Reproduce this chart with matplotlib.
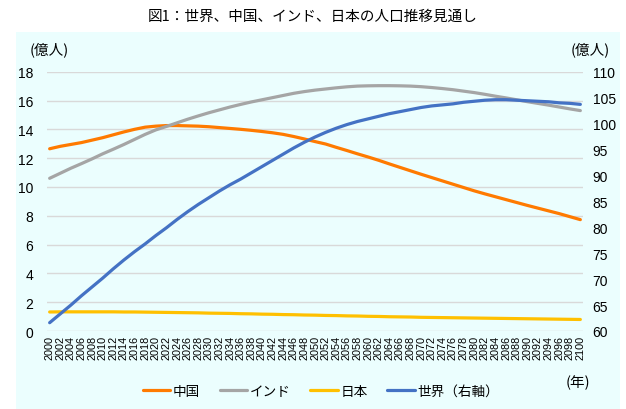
import matplotlib
matplotlib.use("Agg")
import matplotlib.pyplot as plt
from matplotlib.patches import Rectangle

plt.rcParams['font.family'] = ['Noto Sans CJK JP', 'DejaVu Sans']

years = list(range(2000, 2101, 2))

china = [12.65, 12.82, 12.95, 13.08, 13.25, 13.42, 13.62, 13.82, 14.00, 14.15,
         14.22, 14.26, 14.26, 14.24, 14.22, 14.18, 14.12, 14.06, 14.00, 13.93,
         13.85, 13.76, 13.65, 13.50, 13.33, 13.15, 12.98, 12.75, 12.53, 12.30,
         12.08, 11.85, 11.60, 11.36, 11.12, 10.88, 10.65, 10.42, 10.19, 9.96,
         9.73, 9.52, 9.32, 9.12, 8.92, 8.72, 8.53, 8.34, 8.15, 7.94, 7.73]

india = [10.60, 10.95, 11.30, 11.62, 11.95, 12.30, 12.62, 12.95, 13.30, 13.65,
         13.96, 14.20, 14.45, 14.70, 14.93, 15.15, 15.35, 15.55, 15.73, 15.90,
         16.05, 16.20, 16.35, 16.50, 16.62, 16.72, 16.80, 16.88, 16.95, 17.00,
         17.02, 17.03, 17.03, 17.02, 17.00, 16.96, 16.90, 16.83, 16.75, 16.65,
         16.55, 16.43, 16.30, 16.18, 16.05, 15.92, 15.80, 15.68, 15.55, 15.42, 15.30]

japan = [1.32, 1.33, 1.33, 1.33, 1.33, 1.33, 1.33, 1.32, 1.32, 1.31,
         1.30, 1.29, 1.28, 1.27, 1.26, 1.24, 1.23, 1.22, 1.20, 1.19,
         1.17, 1.16, 1.14, 1.13, 1.11, 1.10, 1.08, 1.07, 1.05, 1.04,
         1.02, 1.01, 0.99, 0.98, 0.97, 0.95, 0.94, 0.93, 0.92, 0.91,
         0.90, 0.89, 0.88, 0.87, 0.86, 0.85, 0.84, 0.83, 0.82, 0.81, 0.80]

world = [61.6, 63.3, 65.0, 66.8, 68.5, 70.2, 72.0, 73.7, 75.3, 76.8,
         78.4, 79.9, 81.5, 83.0, 84.4, 85.7, 87.0, 88.2, 89.3, 90.5,
         91.7, 92.9, 94.1, 95.3, 96.4, 97.4, 98.3, 99.1, 99.8, 100.4,
         100.9, 101.4, 101.9, 102.3, 102.7, 103.1, 103.4, 103.6, 103.8, 104.1,
         104.3, 104.5, 104.6, 104.6, 104.5, 104.4, 104.3, 104.2, 104.0, 103.9, 103.7]

labels = ['中国', 'インド', '日本', '世界（右軸）']
colors = ['#FF7A00', '#A5A5A5', '#FFC000', '#4472C4']
left_ticks = list(range(0, 19, 2))
right_ticks = list(range(60, 111, 5))

W, H = 626, 410
fig = plt.figure(figsize=(W / 100, H / 100), dpi=100)
fig.patch.set_facecolor('white')
bg = Rectangle((16 / W, 0), (620 - 16) / W, 1 - 33 / H,
               transform=fig.transFigure, facecolor='#EBFEFE',
               edgecolor='none', zorder=-10)
fig.patches.append(bg)

ax = fig.add_axes([47 / W, 1 - 332 / H, (583 - 47) / W, (332 - 72.7) / H])
ax.set_facecolor('none')
ax2 = ax.twinx()
ax2.set_facecolor('none')

lw = 2.3
l1, = ax.plot(years, china, color=colors[0], lw=lw, label=labels[0], solid_capstyle='round')
l2, = ax.plot(years, india, color=colors[1], lw=lw, label=labels[1], solid_capstyle='round')
l3, = ax.plot(years, japan, color=colors[2], lw=lw, label=labels[2], solid_capstyle='round')
l4, = ax2.plot(years, world, color=colors[3], lw=lw, label=labels[3], solid_capstyle='round')

ax.set_xlim(1999.5, 2100.5)
ax.set_ylim(0, 18)
ax2.set_ylim(60, 110)
ax.set_yticks(left_ticks)
ax2.set_yticks(right_ticks)
ax.set_xticks(years)
ax.set_xticklabels([str(y) for y in years], rotation=90, fontsize=7.8,
                   family=['Liberation Sans', 'DejaVu Sans'])
ax.tick_params(axis='x', length=0, pad=3)
ax.tick_params(axis='y', length=0, pad=10, labelsize=10)
ax2.tick_params(axis='y', length=0, pad=7, labelsize=10)
for t in ax.get_yticklabels() + ax2.get_yticklabels():
    t.set_family(['Liberation Sans', 'DejaVu Sans'])

ax.grid(axis='y', color='#D9D9D9', lw=1)
ax.set_axisbelow(True)
for a in (ax, ax2):
    for s in a.spines.values():
        s.set_visible(False)

fig.text(313 / W, 1 - 17 / H, '図1：世界、中国、インド、日本の人口推移見通し',
         ha='center', va='center', fontsize=10.5)
fig.text(49 / W, 1 - 50 / H, '(億人)', ha='center', va='center', fontsize=10.5)
fig.text(590 / W, 1 - 50 / H, '(億人)', ha='center', va='center', fontsize=10.5)
fig.text(578 / W, 1 - 383 / H, '(年)', ha='center', va='center', fontsize=10.5)

fig.legend(handles=[l1, l2, l3, l4], loc='center', bbox_to_anchor=(321 / W, 1 - 392 / H),
           ncol=4, frameon=False, fontsize=9.8, handlelength=2.0, handletextpad=0.2,
           columnspacing=1.45)

fig.savefig('out.png', dpi=100)
